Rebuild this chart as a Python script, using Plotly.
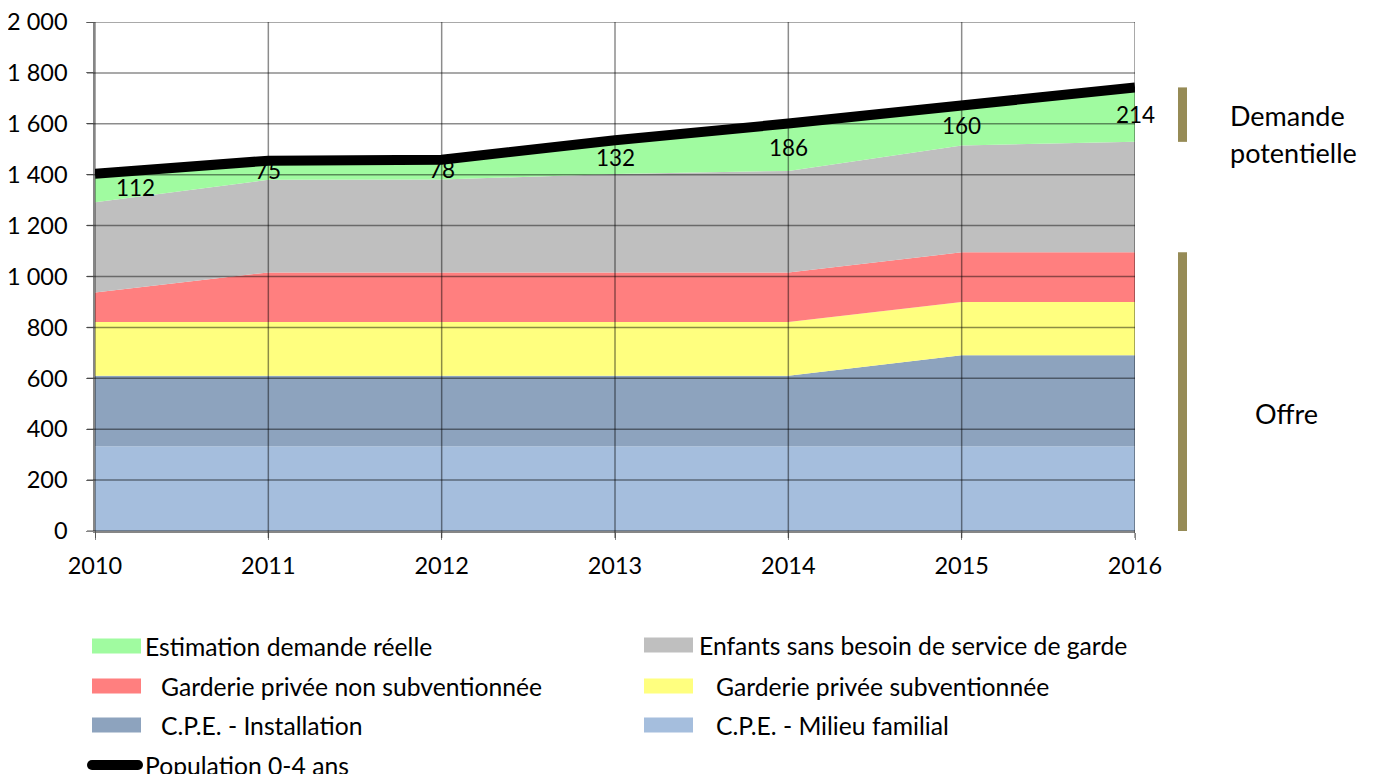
import plotly.graph_objects as go

# ---------------- data ----------------
years = [2010, 2011, 2012, 2013, 2014, 2015, 2016]
cpe_familial = [333, 333, 333, 333, 333, 333, 333]
cpe_installation = [277, 277, 277, 277, 277, 358, 358]
garderie_sub = [211, 211, 211, 211, 211, 209, 209]
garderie_non_sub = [116, 195, 195, 195, 195, 195, 195]
enfants_sans_besoin = [355, 364, 365, 387, 399, 420, 434]
demande_reelle = [112, 75, 78, 132, 186, 160, 214]
population = [1404, 1455, 1459, 1535, 1601, 1675, 1743]

y_tickvals = [0, 200, 400, 600, 800, 1000, 1200, 1400, 1600, 1800, 2000]
y_ticktext = ["0", "200", "400", "600", "800", "1 000", "1 200", "1 400", "1 600", "1 800", "2 000"]

names = {
    "fam": "C.P.E. - Milieu familial",
    "inst": "C.P.E. - Installation",
    "sub": "Garderie privée subventionnée",
    "nonsub": "Garderie privée non subventionnée",
    "sans": "Enfants sans besoin de service de garde",
    "dem": "Estimation demande réelle",
    "pop": "Population 0-4 ans",
}
colors = {
    "fam": "#A5BEDD",
    "inst": "#8DA3BE",
    "sub": "#FFFF7F",
    "nonsub": "#FF7F7F",
    "sans": "#BFBFBF",
    "dem": "#A0FBA0",
    "pop": "#000000",
}

FONT = "Lato"
FS_TICK = 23.5
FS_LABEL = 22.5
FS_LEG = 24.7
FS_SIDE = 27
OFF = 8                      # page body margin
W, H = 1375 - OFF, 774 - OFF
L, R, T, B = 95, 1135, 22, 531  # plot area, in screen pixels


def px(x):
    return (x - L) / (R - L)


def py(y):
    return (B - y) / (B - T)


fig = go.Figure()

series = [("fam", cpe_familial), ("inst", cpe_installation), ("sub", garderie_sub),
          ("nonsub", garderie_non_sub), ("sans", enfants_sans_besoin), ("dem", demande_reelle)]
for key, vals in series:
    fig.add_trace(go.Scatter(
        x=years, y=vals, name=names[key], stackgroup="s", mode="lines",
        line=dict(width=0, color=colors[key]), fillcolor=colors[key],
        showlegend=False, hoverinfo="skip"))

fig.add_trace(go.Scatter(
    x=years, y=population, name=names["pop"], mode="lines",
    line=dict(width=10, color="black"), showlegend=False))

# data labels for demand (centered in the green band)
below = [a + b + c + d + e for a, b, c, d, e in
         zip(cpe_familial, cpe_installation, garderie_sub, garderie_non_sub, enfants_sans_besoin)]
for i, (yr, d) in enumerate(zip(years, demande_reelle)):
    fig.add_annotation(x=yr, y=below[i] + d / 2, text=str(d), showarrow=False,
                       xref="x", yref="y", font=dict(family=FONT, size=FS_LABEL, color="black"),
                       xshift=40 if i == 0 else 0)

# gridlines drawn above areas
grid_col = "rgba(0,0,0,0.45)"
for v in y_tickvals:
    fig.add_shape(type="line", xref="paper", yref="y", x0=px(L - 8), x1=1, y0=v, y1=v,
                  line=dict(color=grid_col, width=1.5), layer="above")
for yr in years:
    fig.add_shape(type="line", xref="x", yref="paper", x0=yr, x1=yr, y0=py(B + 7), y1=1,
                  line=dict(color=grid_col, width=1.5), layer="above")

# right-side brackets
bar_col = "#968B56"
fig.add_shape(type="rect", xref="paper", yref="y", x0=px(1178), x1=px(1187),
              y0=below[-1], y1=population[-1], fillcolor=bar_col, line_width=0)
offre_top = below[-1] - enfants_sans_besoin[-1]
fig.add_shape(type="rect", xref="paper", yref="y", x0=px(1178), x1=px(1187),
              y0=-25, y1=offre_top, fillcolor=bar_col, line_width=0)
side_font = dict(family=FONT, size=FS_SIDE, color="black")
fig.add_annotation(xref="paper", yref="paper", x=px(1228), y=py(115), text="Demande",
                   showarrow=False, xanchor="left", yanchor="middle", font=side_font)
fig.add_annotation(xref="paper", yref="paper", x=px(1228), y=py(152), text="potentielle",
                   showarrow=False, xanchor="left", yanchor="middle", font=side_font)
fig.add_annotation(xref="paper", yref="paper", x=px(1286), y=py(413), text="Offre",
                   showarrow=False, xanchor="center", yanchor="middle", font=side_font)

# manual legend
leg_font = dict(family=FONT, size=FS_LEG, color="black")
legend_items = [
    ("dem", 92, 143, 646), ("sans", 644, 697, 645),
    ("nonsub", 92, 159, 686), ("sub", 644, 714, 686),
    ("inst", 92, 159, 725), ("fam", 644, 714, 725),
]
for key, sx, tx, cy in legend_items:
    fig.add_shape(type="rect", xref="paper", yref="paper", x0=px(sx), x1=px(sx + 49),
                  y0=py(cy + 7.5), y1=py(cy - 7.5), fillcolor=colors[key], line_width=0)
    fig.add_annotation(xref="paper", yref="paper", x=px(tx), y=py(cy), text=names[key],
                       showarrow=False, xanchor="left", yanchor="middle", font=leg_font)
# population legend: thick line with rounded ends
fig.add_shape(type="line", xref="paper", yref="paper", x0=px(92), x1=px(138),
              y0=py(765), y1=py(765), line=dict(color="black", width=10))
for cx in (92, 138):
    fig.add_shape(type="circle", xref="paper", yref="paper", x0=px(cx - 5), x1=px(cx + 5),
                  y0=py(770), y1=py(760), fillcolor="black", line_width=0)
fig.add_annotation(xref="paper", yref="paper", x=px(143), y=py(765), text=names["pop"],
                   showarrow=False, xanchor="left", yanchor="middle", font=leg_font)

fig.update_layout(
    width=W, height=H,
    margin=dict(l=L - OFF, r=W - (R - OFF), t=T - OFF, b=H - (B - OFF), pad=0,
                autoexpand=False),
    paper_bgcolor="white", plot_bgcolor="white",
    font=dict(family=FONT, size=FS_TICK, color="black"),
    showlegend=False,
)
fig.update_xaxes(range=[2010, 2016], tickvals=years, showgrid=False, zeroline=False,
                 showline=True, linecolor="#868686", linewidth=1.5,
                 ticks="outside", ticklen=7, tickcolor="#868686", automargin=False,
                 ticklabeloverflow="allow",
                 ticklabelstandoff=6, tickfont=dict(family=FONT, size=FS_TICK))
fig.update_yaxes(range=[0, 2000], tickvals=y_tickvals, ticktext=y_ticktext, showgrid=False,
                 zeroline=False, showline=True, linecolor="#868686", linewidth=1.5,
                 ticks="outside", ticklen=7, tickcolor="#868686", automargin=False,
                 ticklabeloverflow="allow",
                 ticklabelstandoff=14, tickfont=dict(family=FONT, size=FS_TICK))

fig.write_html("out.html")
